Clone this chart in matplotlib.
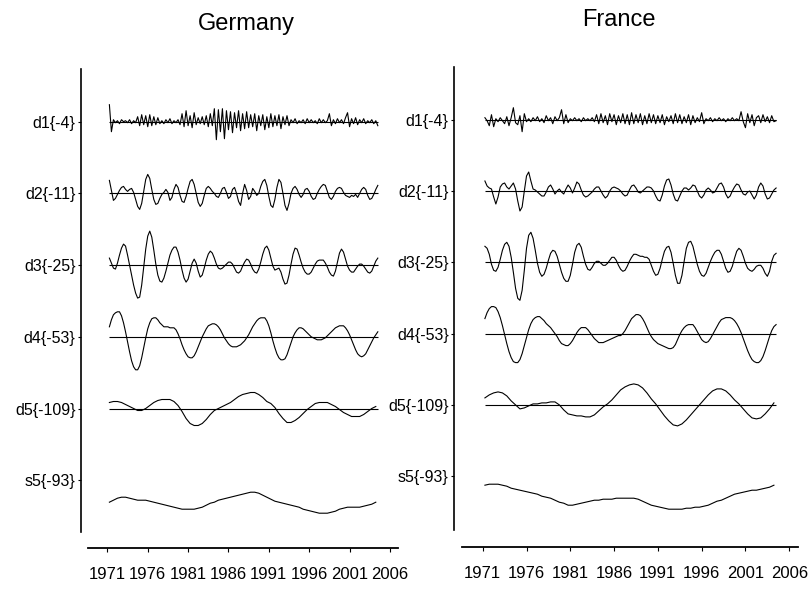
import numpy as np
import matplotlib.pyplot as plt

plt.rcParams['font.family'] = ['Liberation Sans', 'DejaVu Sans']

# quarterly time axis 1971Q2 - 2004Q3, smooth components read every half year
years_q = 1971.25 + 0.25 * np.arange(134)
years_h = years_q[::2]

countries = ['Germany', 'France']
level_labels = ['d1{-4}', 'd2{-11}', 'd3{-25}', 'd4{-53}', 'd5{-109}', 's5{-93}']
year_ticks = [1971, 1976, 1981, 1986, 1991, 1996, 2001, 2006]

# values (screen pixels above the level line)
germany_d1 = [17, -10,
              2, -1, 1, -2, 2, 0, 1, -1, 2, -2, 1, -1,
              5, -4, 7, -3, 6, -5, 7, -4, 5, -3, 4, -2,
              1, -2, 2, -1, 3, -2, 1, -1, 2, -3,
              8, -5, 11, -4, 6, -6, 9, -3, 4, -2,
              5, -3, 6, -5, 8, -4,
              13, -18, 12, -10, 13, -17,
              11, -8, 10, -11, 9, -6, 11, -9, 8, -7, 10, -6,
              7, -5, 8, -9, 6, -4, 7, -8, 5, -6, 8, -5, 6, -4, 7, -7, 5, -3, 6, -4,
              2, -1, 3, -2, 1, -1, 2, -2, 3, -1, 2, -1, 1, -2, 3, -1, 2, -1, 1,
              8, -4,
              2, -2, 3, -1, 2, -2, 4, 9, -5, 3, -2, 4, -3, 2, -1, 3, -2, 1, -1, 2, -2, 1, -4]

germany_d2 = [13, 3, -7, -5, -1, 3, 6, 7, 4, 2, 4, 5, 1, -6, -13, -16, -10, 2, 14, 19,
              15, 4, -6, -11, -10, -5, -1, 1, 4, 1, -7, -4, 4, 9, 6, -2, -8, -9, -3, 5,
              12, 14, 9, 0, -9, -13, -10, -2, 5, 7, 5, 2, 0, -3, -4, 0, 5, 6, 1, -5,
              -3, 4, 6, 0, -8, -12, 0, 9, 3, -6, -3, 5, 2, -2, 0, 7, 12, 14, 8, -3,
              -12, -14, -6, 6, 14, 11, 0, -12, -17, -10, 0, 5, 7, 4, -1, -4, -1, 4, 5, 2,
              -3, -6, -5, 0, 4, 7, 9, 8, 2, -4, -6, -3, 2, 5, 6, 5, 1, -2, -3, -4,
              -2, -3, -1, -4, 0, 4, 6, 4, -2, -6, -5, -1, 4, 8]

germany_d3 = [7, 2, -3, -4, 2, 10, 17, 21, 19, 10, 0, -10, -20, -28, -33, -32, -20, -2, 16, 29,
              34, 28, 15, 1, -10, -16, -17, -13, -6, 2, 10, 15, 18, 18, 13, 5, -5, -13, -17, -14,
              -6, 2, 6, 2, -6, -12, -10, -3, 5, 11, 14, 12, 7, 1, -3, -4, -3, -1, 1, 3,
              3, 1, -3, -7, -8, -6, -1, 3, 6, 5, 1, -4, -7, -8, -4, 3, 11, 17, 19, 15,
              7, -1, -5, -4, -3, -7, -14, -19, -18, -10, 1, 11, 17, 16, 10, 3, -3, -7, -9, -9,
              -7, -3, 1, 4, 5, 5, 5, 2, -2, -7, -10, -11, -6, 3, 12, 16, 13, 6, -1, -5,
              -7, -7, -4, -1, 1, 1, -1, -4, -7, -8, -6, -1, 4, 7]

germany_d4 = [10, 17, 22, 24, 25, 25, 21, 14, 5, -5, -15, -24, -30, -33, -33, -29, -21, -11, -1, 8,
              14, 18, 19, 19, 17, 14, 12, 10, 10, 10, 9, 9, 9, 7, 3, -2, -8, -13, -17, -20,
              -21, -21, -19, -15, -10, -5, 0, 4, 8, 11, 12, 13, 13, 12, 10, 7, 3, -1, -4, -7,
              -9, -10, -10, -10, -9, -8, -6, -4, -1, 2, 6, 10, 13, 16, 18, 19, 19, 19, 16, 11,
              4, -4, -11, -17, -21, -23, -23, -22, -18, -12, -6, 0, 4, 7, 9, 9, 8, 6, 4, 2,
              0, -1, -2, -3, -3, -3, -2, -1, 1, 3, 5, 7, 9, 10, 11, 11, 11, 9, 6, 2,
              -3, -8, -13, -17, -19, -20, -19, -17, -13, -9, -5, -1, 2, 5]

germany_d5 = [6, 7, 7, 6, 4, 2, 0, -2, -2, 0, 3, 6, 8, 9, 9, 9, 7, 3, -3, -10,
              -15, -17, -17, -15, -11, -6, -2, 0, 2, 4, 6, 9, 12, 14, 15, 16, 16, 14, 11, 7,
              5, 1, -5, -10, -14, -14, -12, -9, -5, -1, 2, 5, 6, 6, 6, 4, 2, -1, -4, -6,
              -8, -8, -8, -6, -3, 0, 2]

germany_s5 = [-22, -20, -18, -17, -17, -18, -19, -20, -20, -20, -21, -22, -23, -24, -25, -26, -27, -28, -29, -29,
              -29, -29, -28, -27, -25, -23, -22, -20, -19, -18, -17, -16, -15, -14, -13, -12, -12, -13, -15, -17,
              -19, -21, -22, -23, -24, -25, -26, -27, -29, -30, -31, -32, -33, -33, -33, -32, -31, -29, -28, -27,
              -27, -27, -27, -26, -25, -24, -22]

france_d1 = [2, -1, -6, 5, -7, 1,
             -2, 2, -1, -4, 3, -6, 2,
             12, -3, -5, 4, -12, 6, -2,
             1, -2, 2, -1, 3, -2, 1, -3, 4, -1, 2, -4, 3, -1, 2,
             10, -4, 5, -3,
             1, -1, 2, -1, 1, -2, 2, -1, 1, -1, 2, -2,
             5, -4, 6, -3, 4, -5, 6, -2, 5, -5, 4, -3, 6, -4, 5, -5, 7, -4, 5, -3,
             6, -5, 4, -4, 6, -3, 5, -4,
             4, -3, 5, -5, 3, -2, 4, -4, 6, -3, 5, -4, 3, -3, 5, -5, 4, -3, 2, -2, 7, -4,
             1, -1, 2, -2, 1, -1, 2, -1, 1, -2, 1, -1, 2, -1, 1, -1,
             8, -2, -8, 6, -3, 5, -6, 2,
             4, -3, 5, -2, 3, -3, 4, -2, -1]

france_d2 = [10, 5, 3, 2, -6, -13, -6, 4, 7, 8, 4, 2, 5, 8, 2, -10, -20, -16, 0, 15,
             19, 10, 2, 1, -1, -3, -5, -5, -1, 4, 6, 2, -3, 0, 2, -1, -3, 2, 6, 3,
             -2, 3, 9, 7, 1, -4, -6, -5, -3, -1, 2, 4, 4, 0, -4, -7, -5, 0, 3, 4,
             3, 2, 0, -3, -5, -4, 1, 5, 6, 3, -1, -2, 0, 2, 4, 4, 3, 0, -5, -9,
             -10, -4, 5, 11, 12, 6, -3, -9, -10, -5, 0, 3, 3, 1, 3, 6, 5, 0, -5, -7,
             -4, 1, 3, 1, -2, -1, 3, 7, 8, 4, -3, -7, -5, 0, 4, 7, 6, 1, -3, -4,
             -1, 0, -4, -8, -4, 4, 8, 5, -3, -8, -7, -3, 1, 3]

france_d3 = [16, 14, 8, -2, -8, -9, -5, 3, 12, 18, 20, 16, 5, -10, -26, -36, -38, -28, -8, 14,
             27, 30, 24, 12, -1, -10, -14, -12, -6, 2, 9, 12, 11, 6, -2, -10, -16, -19, -19, -13,
             -2, 10, 17, 19, 15, 6, -2, -7, -8, -5, -1, 1, 1, -1, -3, -3, -1, 2, 5, 5,
             2, -3, -7, -9, -8, -4, 1, 5, 8, 8, 7, 6, 6, 5, 5, 3, -3, -9, -13, -12,
             -6, 3, 11, 15, 16, 10, -1, -13, -21, -21, -13, 1, 14, 20, 21, 16, 7, -2, -9, -13,
             -14, -11, -5, 1, 6, 10, 12, 12, 8, 1, -6, -10, -9, -4, 4, 11, 14, 12, 6, -1,
             -6, -8, -9, -7, -4, -3, -3, -6, -11, -14, -9, 1, 7, 9]

france_d4 = [15, 21, 25, 27, 27, 26, 22, 16, 8, -1, -10, -18, -24, -28, -29, -29, -26, -20, -12, -4,
             4, 10, 14, 16, 17, 17, 15, 13, 10, 8, 6, 3, 0, -3, -7, -10, -11, -12, -12, -10,
             -7, -3, 1, 4, 6, 6, 6, 4, 1, -2, -5, -7, -9, -9, -9, -8, -7, -6, -5, -4,
             -3, -2, -2, 0, 3, 7, 11, 15, 17, 19, 19, 18, 15, 11, 6, 1, -3, -6, -8, -10,
             -11, -12, -13, -14, -15, -15, -14, -11, -6, -1, 3, 6, 8, 9, 9, 9, 6, 2, -2, -6,
             -8, -9, -8, -5, -1, 3, 7, 11, 14, 15, 16, 16, 16, 15, 13, 10, 6, 1, -5, -11,
             -17, -22, -26, -28, -29, -29, -27, -23, -17, -10, -3, 3, 7, 9]

france_d5 = [7, 10, 12, 13, 12, 9, 4, 0, -4, -3, -1, 1, 1, 2, 2, 3, 3, 0, -5, -9,
             -10, -11, -11, -12, -12, -10, -6, -2, 1, 5, 10, 15, 18, 20, 21, 20, 17, 12, 6, 1,
             -5, -11, -16, -20, -21, -19, -15, -10, -5, 0, 5, 10, 14, 16, 16, 14, 10, 5, 1, -4,
             -9, -13, -14, -13, -9, -4, 2]

france_s5 = [-9, -8, -8, -8, -9, -10, -12, -13, -14, -15, -16, -17, -18, -20, -21, -22, -24, -26, -27, -29,
             -29, -28, -27, -26, -25, -24, -24, -23, -23, -23, -22, -22, -22, -22, -22, -23, -25, -27, -29, -30,
             -31, -32, -33, -33, -33, -33, -32, -32, -31, -31, -30, -29, -27, -25, -24, -22, -20, -18, -17, -16,
             -15, -14, -14, -13, -12, -11, -9]

data = {
    'Germany': [germany_d1, germany_d2, germany_d3, germany_d4, germany_d5, germany_s5],
    'France': [france_d1, france_d2, france_d3, france_d4, france_d5, france_s5],
}

W, H = 812, 592
fig = plt.figure(figsize=(W / 100, H / 100), dpi=100)

# panel boxes in pixels: left, top, right, bottom, y-axis offset, level spacing, title x, title y
boxes = {
    'Germany': (88, 69, 398, 548, 7.0, 71.7, 246, 24),
    'France': (461.7, 67, 798, 546.7, 7.4, 71.3, 619, 20),
}


def draw_panel(name):
    l, t, r, b, off, step, tx, ty = boxes[name]
    ax = fig.add_axes([l / W, 1 - b / H, (r - l) / W, (b - t) / H])
    # one data unit = one pixel, d1 level at 0
    top = 52.7
    ax.set_ylim(top - (b - t), top)
    px_per_year = (r - l) / 38.4
    ax.set_xlim(1968.6, 1968.6 + (r - l) / px_per_year)

    levels = [-k * step for k in range(6)]
    for k, vals in enumerate(data[name]):
        xs = years_q if len(vals) == len(years_q) else years_h
        ax.plot(xs, np.array(vals) + levels[k], color='black', lw=0.8)
        if k < 5:
            ax.hlines(levels[k], years_q[0], years_q[-1], color='black', lw=0.8)

    ax.set_yticks(levels)
    ax.set_yticklabels(level_labels)
    ax.set_xticks(year_ticks)
    ax.set_xticklabels([str(y) for y in year_ticks])

    for s in ['top', 'right']:
        ax.spines[s].set_visible(False)
    ax.spines['left'].set_position(('outward', off * 0.72))
    ax.spines['left'].set_bounds(top - (532 - 69), top)
    ax.spines['left'].set_linewidth(1.2)
    ax.spines['bottom'].set_linewidth(1.3)
    ax.tick_params(axis='y', length=2.5, width=0.8, pad=1.5, labelsize=11.5)
    ax.tick_params(axis='x', length=3, width=0.8, pad=11, labelsize=12)
    fig.text(tx / W, 1 - ty / H, name, ha='center', va='center', fontsize=17)
    return ax


for c in countries:
    draw_panel(c)

fig.savefig('out.png', dpi=100)
